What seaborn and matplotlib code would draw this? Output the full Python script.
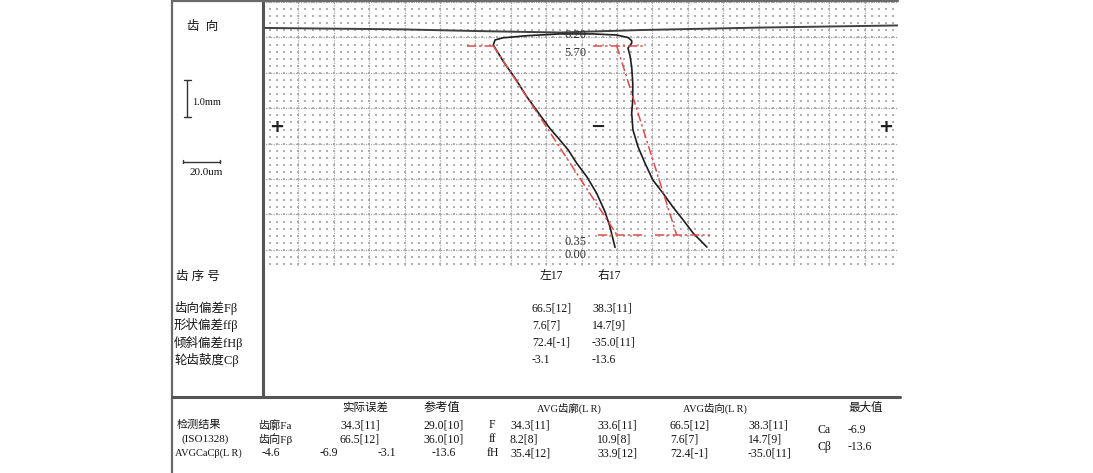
import matplotlib
matplotlib.use("Agg")
import matplotlib.pyplot as plt
import numpy as np
import seaborn as sns

# helix trace of tooth 17 (x: deviation in um from chart edge, y: face width in mm)
trace_x = [198.9, 196.0, 193.2, 188.5, 182.9, 177.2, 172.5, 167.8, 162.1, 156.5, 149.0, 142.4, 135.8, 130.1,
           131.1, 135.6, 149.0, 167.8, 186.4, 199.8, 206.2, 208.3, 208.3, 206.2, 207.3, 208.3, 208.9, 208.9,
           208.3, 209.0, 211.9, 215.8, 220.3, 226.0, 231.6, 237.3, 242.9, 250.8]
trace_y = [0.00, 0.585, 1.01, 1.53, 2.00, 2.38, 2.75, 3.03, 3.36, 3.74, 4.26, 4.78, 5.25, 5.72,
           5.86, 5.92, 5.98, 6.03, 6.03, 6.00, 5.93, 5.84, 5.77, 5.63, 5.43, 5.10, 4.64, 4.16,
           3.80, 3.32, 2.84, 2.38, 1.90, 1.53, 1.14, 0.78, 0.41, 0.01]

# tip line across the chart
tip_x = [0, 77.4, 122.6, 167.8, 213.0, 280.8, 358.8]
tip_y = [6.20, 6.16, 6.11, 6.07, 6.14, 6.21, 6.27]

# evaluation range and reference (design) lines
eval_top = 5.70
eval_bot = 0.35
left_ref_x = [130.1, 200.0]
right_ref_x = [199.8, 233.7]
left_top_bar = [115.1, 132.0]
left_bot_bar = [189.3, 214.1]
right_top_bar = [186.4, 215.8]
right_bot_bar = [221.5, 252.5]
level_labels = ["6.20", "5.70", "0.35", "0.00"]
level_values = [6.20, 5.70, 0.35, 0.00]

# middle table
tooth_cols = ["左17", "右17"]
row_labels = ["齿向偏差Fβ", "形状偏差ffβ", "倾斜偏差fHβ", "轮齿鼓度Cβ"]
left_vals = ["66.5[12]", "7.6[7]", "72.4[-1]", "-3.1"]
right_vals = ["38.3[11]", "14.7[9]", "-35.0[11]", "-13.6"]

# bottom result table
res_head = ["实际误差", "参考值", "AVG齿廓(L R)", "AVG齿向(L R)", "最大值"]
res_row1 = ["检测结果", "齿廓Fa", "34.3[11]", "29.0[10]", "F", "34.3[11]", "33.6[11]", "66.5[12]", "38.3[11]"]
res_row2 = ["(ISO1328)", "齿向Fβ", "66.5[12]", "36.0[10]", "ff", "8.2[8]", "10.9[8]", "7.6[7]", "14.7[9]"]
res_row3 = ["AVGCaCβ(L R)", "-4.6", "-6.9", "-3.1", "-13.6", "fH", "35.4[12]", "33.9[12]", "72.4[-1]", "-35.0[11]"]
max_names = ["Ca", "Cβ"]
max_vals = ["-6.9", "-13.6"]

sns.set_theme(style="white")
plt.rcParams['font.family'] = ['Liberation Serif', 'Noto Sans CJK SC', 'DejaVu Sans']

W, H = 1093, 473
fig = plt.figure(figsize=(W / 100, H / 100), dpi=100)
fig.patch.set_facecolor("white")

# chart area in pixels: x 263..898, y 1..266
px_um = 1.77     # pixels per um
px_mm = 35.4     # pixels per mm
y0_px = 247.4    # pixel row of 0 mm
left, right, top, bottom = 263, 898, 1, 266
ax = fig.add_axes([left / W, 1 - bottom / H, (right - left) / W, (bottom - top) / H])
ax.set_xlim(0, (right - left) / px_um)
ax.set_ylim((y0_px - bottom) / px_mm, (y0_px - top) / px_mm)
for s in ax.spines.values():
    s.set_visible(False)
ax.set_xticks(np.arange(20, 360, 20))
y_major = np.arange(-0.07, 7, 1.0)
ax.set_yticks(y_major)
ax.tick_params(length=0, labelbottom=False, labelleft=False)
ax.grid(True, which="major", color="#a8a8a8", linestyle=(0, (1, 1)), linewidth=0.9)

# dot grid
gx, gy = np.meshgrid(np.arange(4, 360, 4), np.arange(-0.47, 7, 0.2))
ax.scatter(gx.ravel(), gy.ravel(), s=1.4, marker="s", color="#b0b0b0", linewidths=0, zorder=0)

# tip line and measured trace
sns.lineplot(x=tip_x, y=tip_y, sort=False, estimator=None, color="#404040", linewidth=1.4, ax=ax)
sns.lineplot(x=trace_x, y=trace_y, sort=False, estimator=None, color="#1e1e1e", linewidth=1.2, ax=ax)

red = "#e04a4a"
dd = (0, (6, 2, 1.5, 2))
for xs, ys in [(left_ref_x, [eval_top, eval_bot]), (right_ref_x, [eval_top, eval_bot]),
               (left_top_bar, [eval_top] * 2), (left_bot_bar, [eval_bot] * 2),
               (right_top_bar, [eval_top] * 2), (right_bot_bar, [eval_bot] * 2)]:
    ax.plot(xs, ys, color=red, linestyle=dd, linewidth=1.1, zorder=3)

for lab, val in zip(level_labels, level_values):
    ax.annotate(lab, (176.5, val), xytext=(0, -1.0), textcoords="offset points",
                ha="center", va="top", fontsize=9, color="#333333")

# overlay in pixel coordinates for frame and tables
lay = fig.add_axes([0, 0, 1, 1])
lay.set_xlim(0, W)
lay.set_ylim(H, 0)
lay.axis("off")
frame = "#6a6a6a"
lay.plot([172, 172], [0, H], color=frame, linewidth=1.6)
lay.plot([263, 263], [0, 397], color="#555555", linewidth=2.2)
lay.plot([172, 898], [1, 1], color=frame, linewidth=1.6)
lay.plot([172, 900], [397, 397], color="#555555", linewidth=2.2)

ink = "#141414"
lab_txt = dict(fontsize=8, color=ink, va="center")        # small labels
num_txt = dict(fontsize=8.5, color=ink, va="center")      # numbers
big_txt = dict(fontsize=9, color=ink, va="center")        # middle table labels

lay.text(187, 27, "齿  向", **big_txt)
# scale bars
lay.plot([187, 187], [80, 117], color="#333333", linewidth=1)
lay.plot([183.5, 190.5], [80, 80], color="#333333", linewidth=1)
lay.plot([183.5, 190.5], [117, 117], color="#333333", linewidth=1)
lay.text(192, 102, "1.0mm", fontsize=7.5, color=ink, va="center")
lay.plot([183, 220], [162, 162], color="#333333", linewidth=1)
lay.plot([183, 183], [160.5, 163.5], color="#333333", linewidth=1)
lay.plot([220, 220], [160.5, 163.5], color="#333333", linewidth=1)
lay.text(190, 172, "20.0um", fontsize=8, color=ink, va="center")

sign = dict(fontsize=13, fontweight="bold", color="#222222", ha="center", va="center", family="DejaVu Sans")
lay.text(277, 127, "+", **sign)
lay.text(598, 127, "−", **sign)
lay.text(886, 127, "+", **sign)

# middle table
lay.text(176, 277, "齿 序 号", **big_txt)
lay.text(540, 276, tooth_cols[0], **num_txt)
lay.text(598, 276, tooth_cols[1], **num_txt)
for i, lab in enumerate(row_labels):
    yy = 308 + i * 17.3
    lay.text(174, yy, lab, **big_txt)
    lay.text(532, yy, left_vals[i], **num_txt)
    lay.text(592, yy, right_vals[i], **num_txt)

# bottom table
head_x = [342, 423, 537, 683, 848]
head_fs = [8.3, 8.8, 7.5, 7.5, 8.3]
for hx, h, fs in zip(head_x, res_head, head_fs):
    lay.text(hx, 408, h, fontsize=fs, color=ink, va="center")


def cell(x, y, s):
    # long label cells keep the small font, numbers and symbols the larger one
    style = num_txt if (s[0] in "-0123456789" or len(s) <= 2) else lab_txt
    if s.startswith("AVG"):
        style = dict(lab_txt, fontsize=7.5)
    lay.text(x, y, s, **style)


col_x = [177, 258, 340, 423, 489, 510, 597, 670, 748]
for cx, v in zip(col_x, res_row1):
    cell(cx, 425, v)
col_x2 = [182, 258, 340, 423, 489, 510, 597, 670, 748]
for cx, v in zip(col_x2, res_row2):
    cell(cx, 439, v)
col_x3 = [175, 262, 320, 378, 432, 487, 510, 597, 670, 748]
for cx, v in zip(col_x3, res_row3):
    cell(cx, 453, v)
for i in range(2):
    cell(817, 430 + i * 17, max_names[i])
    cell(848, 430 + i * 17, max_vals[i])

fig.savefig("out.png", dpi=100, facecolor="white")
